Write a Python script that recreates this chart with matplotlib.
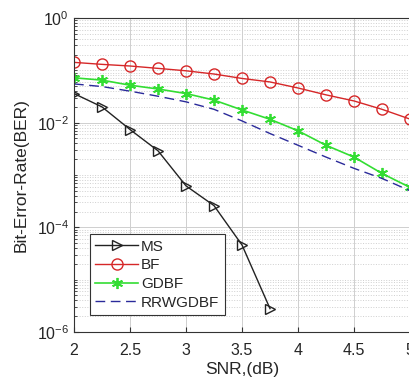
import matplotlib
matplotlib.use('Agg')
import matplotlib.pyplot as plt
from matplotlib.ticker import LogLocator, NullFormatter, FixedLocator

plt.rcParams['font.family'] = ['Liberation Sans', 'DejaVu Sans']

snr = [2, 2.25, 2.5, 2.75, 3, 3.25, 3.5, 3.75, 4, 4.25, 4.5, 4.75, 5]
snr_ms = [2, 2.25, 2.5, 2.75, 3, 3.25, 3.5, 3.75]

ber_ms = [0.036, 0.020, 0.0074, 0.0029, 6.2e-4, 2.6e-4, 4.6e-5, 2.8e-6]
ber_bf = [0.142, 0.130, 0.121, 0.109, 0.098, 0.085, 0.070, 0.060,
          0.046, 0.034, 0.026, 0.018, 0.0117]
ber_gdbf = [0.072, 0.065, 0.052, 0.044, 0.036, 0.027, 0.0175, 0.0116,
            0.0070, 0.0037, 0.0022, 0.00107, 0.00058]
ber_rrw = [0.055, 0.049, 0.040, 0.032, 0.025, 0.018, 0.0108, 0.0062,
           0.0037, 0.0022, 0.00134, 0.00086, 0.00050]

txt = '#262626'

fig = plt.figure(figsize=(4.09, 3.83), dpi=100)
ax = fig.add_axes([74/409, 51/383, 336/409, 314/383])

ax.semilogy(snr_ms, ber_ms, '-', color='#222222', lw=1.0, marker='>',
            ms=7, mfc='none', mec='#222222', mew=1.0, label='MS')
ax.semilogy(snr, ber_bf, '-', color='#d62728', lw=1.0, marker='o',
            ms=8, mfc='none', mec='#d62728', mew=1.0, label='BF')
ax.semilogy(snr, ber_gdbf, '-', color='#33dd33', lw=1.2, marker=(6, 2, 0),
            ms=8, mew=1.3, label='GDBF')
ax.semilogy(snr, ber_rrw, '--', color='#2a2a9a', lw=1.0, dashes=(7, 4),
            label='RRWGDBF')

ax.set_xlim(2, 5)
ax.set_ylim(1e-6, 1)
ax.xaxis.set_major_locator(FixedLocator([2, 2.5, 3, 3.5, 4, 4.5, 5]))
ax.set_xticklabels(['2', '2.5', '3', '3.5', '4', '4.5', '5'])
ax.yaxis.set_major_locator(FixedLocator([1e-6, 1e-4, 1e-2, 1]))
ax.yaxis.set_minor_locator(LogLocator(base=10, subs=range(1, 10), numticks=20))
ax.yaxis.set_minor_formatter(NullFormatter())

ax.grid(True, which='major', color='#cfcfcf', lw=0.7, ls='-')
ax.grid(True, which='minor', axis='y', color='#cfcfcf', lw=0.7, ls=':')
ax.tick_params(which='both', direction='in', labelsize=11.5, color='#333333',
               labelcolor=txt)
ax.tick_params(axis='x', pad=8)
ax.tick_params(which='minor', length=2)
for s in ax.spines.values():
    s.set_color('#333333')
    s.set_linewidth(0.8)

ax.set_xlabel('SNR,(dB)', fontsize=12.5, labelpad=3, color=txt)
ax.set_ylabel('Bit-Error-Rate(BER)', fontsize=12.5, labelpad=6, color=txt)

leg = ax.legend(loc='lower left', bbox_to_anchor=(0.025, 0.03), fontsize=11,
                handlelength=2.8, handletextpad=0.2, labelspacing=0.3,
                borderpad=0.35, fancybox=False, framealpha=1, edgecolor='#333333')
leg.get_frame().set_linewidth(0.8)
for t in leg.get_texts():
    t.set_color(txt)

fig.savefig('out.png', dpi=100)
